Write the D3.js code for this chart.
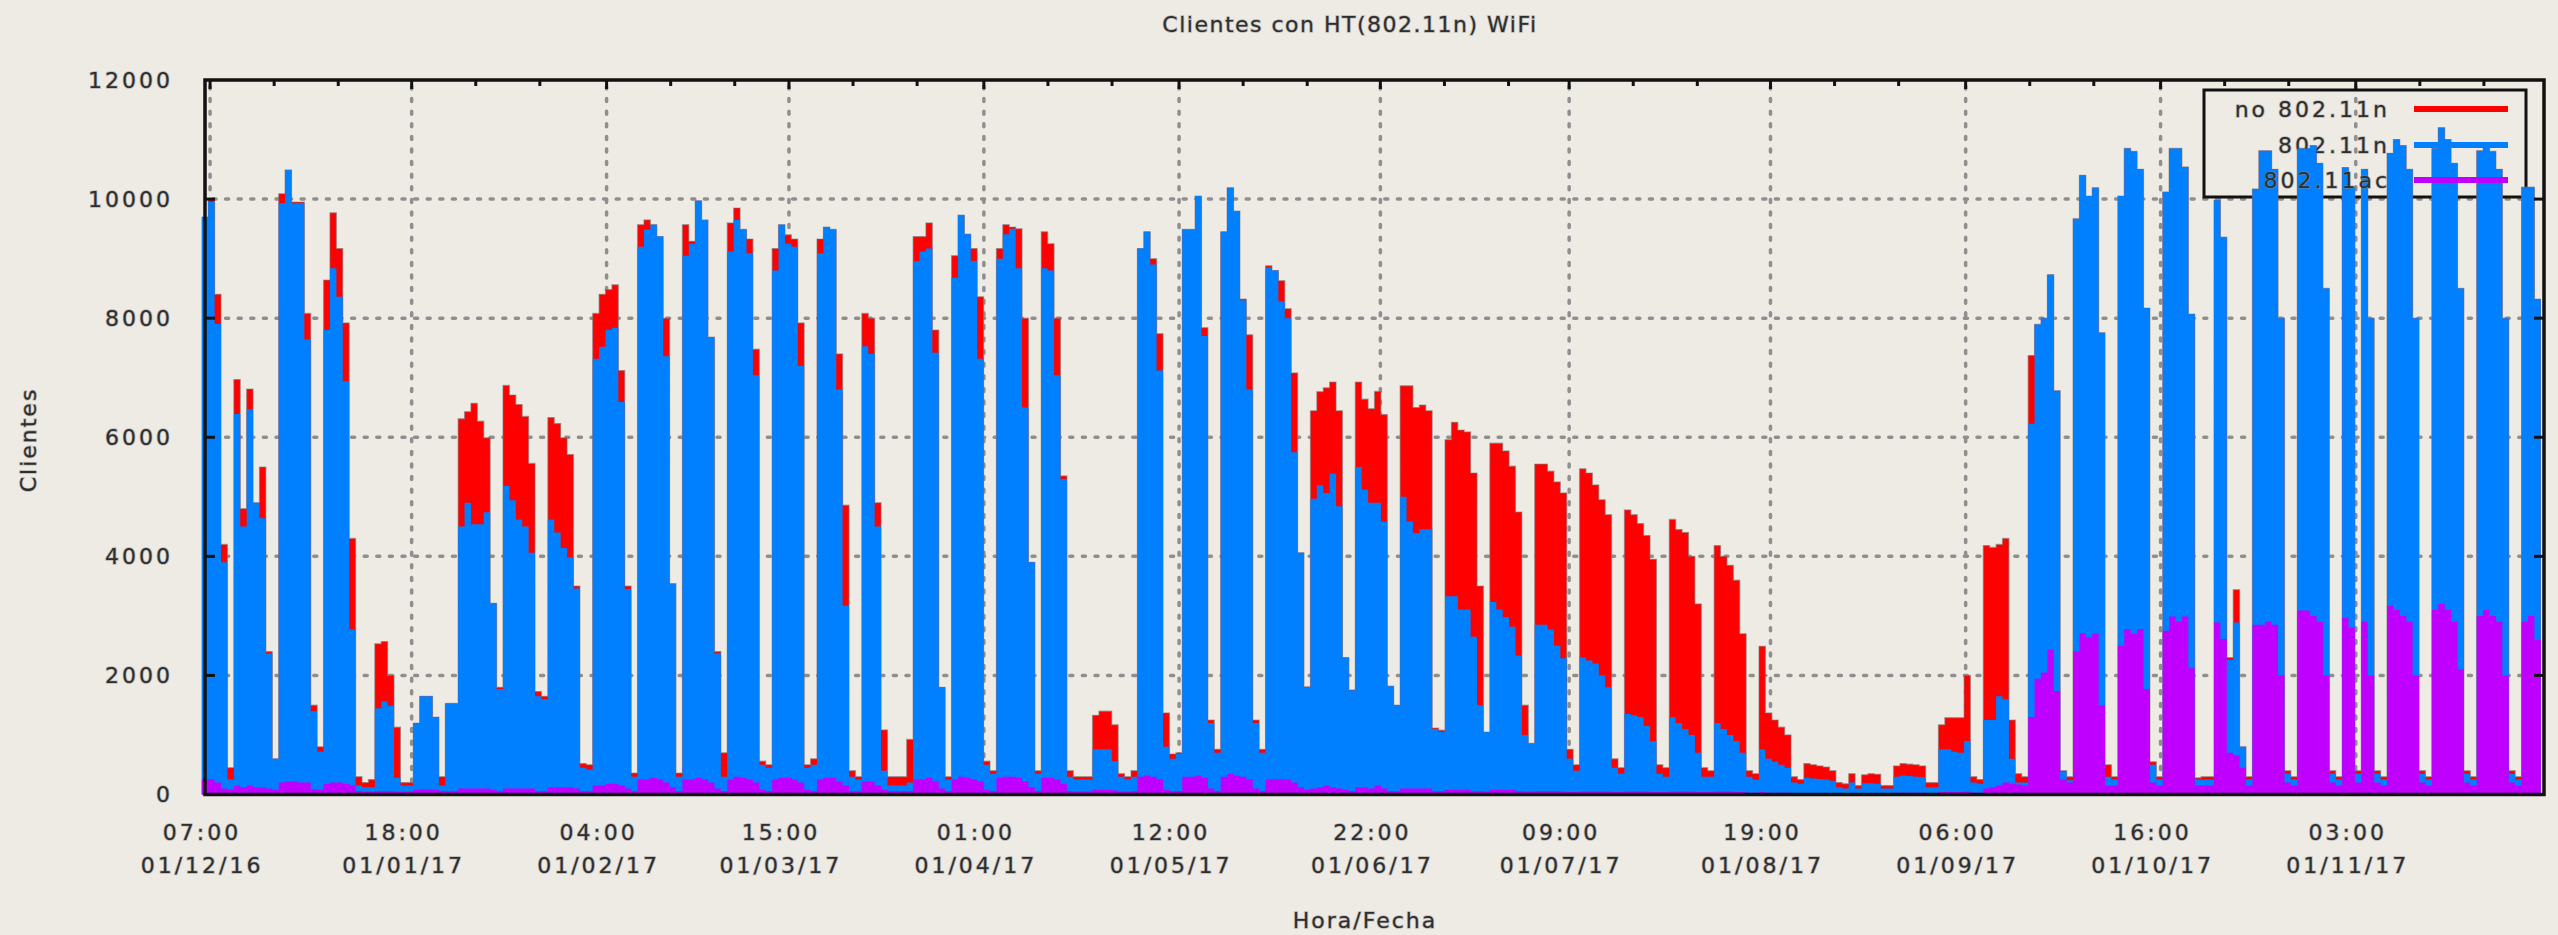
<!DOCTYPE html>
<html>
<head>
<meta charset="utf-8">
<script src="https://d3js.org/d3.v7.min.js"></script>
<style>
  body { margin: 0; background: #eeebe5; }
  svg text {
    font-family: "DejaVu Sans", sans-serif;
    fill: #2e2e2e;
    stroke: rgba(140,140,140,0.55);
    stroke-width: 1.6px;
    paint-order: stroke;
  }
</style>
</head>
<body>
<svg id="chart" width="2558" height="935"></svg>
<script>
// one value per day, first box is 30/11/16
var FIRST_DAY = Date.UTC(2016, 10, 30);

var totalClients = [
  9700, 10000, 8400, 4200, 450, 6970, 4800,
  6810, 4900, 5500, 2400, 600, 10090, 10490,
  9950, 9950, 8080, 1500, 800, 8640, 9770,
  9170, 7920, 4300, 300, 200, 250, 2530,
  2570, 2000, 1130, 200, 200, 1200, 1650,
  1650, 1300, 300, 1530, 1530, 6310, 6430,
  6570, 6270, 5990, 3210, 1800, 6870, 6710,
  6550, 6350, 5560, 1730, 1650, 6330, 6230,
  5990, 5710, 3500, 520, 500, 8080, 8400,
  8480, 8560, 7120, 3500, 360, 9570, 9650,
  9570, 9370, 8000, 3540, 360, 9570, 9290,
  9970, 9650, 7680, 2400, 700, 9600, 9850,
  9490, 9330, 7480, 560, 500, 9170, 9570,
  9400, 9330, 7920, 500, 600, 9330, 9530,
  9490, 7400, 4860, 400, 300, 8080, 8000,
  4900, 1085, 300, 300, 300, 925, 9370,
  9370, 9600, 7800, 1800, 300, 9050, 9730,
  9410, 9170, 8360, 560, 400, 9170, 9570,
  9530, 9500, 8000, 3900, 400, 9450, 9250,
  8000, 5350, 400, 300, 300, 300, 1330,
  1400, 1400, 1170, 350, 300, 400, 9170,
  9450, 9000, 7740, 1370, 680, 700, 9490,
  9490, 10050, 7840, 1250, 760, 9450, 10190,
  9800, 8320, 7720, 1250, 760, 8880, 8800,
  8630, 8160, 7080, 4060, 1810, 6445, 6766,
  6830, 6927, 6445, 2300, 1756, 6927, 6640,
  6480, 6770, 6380, 1820, 1500, 6863, 6863,
  6500, 6540, 6445, 1115, 1080, 5960, 6250,
  6120, 6090, 5400, 3500, 1050, 5900, 5900,
  5770, 5514, 4743, 1500, 860, 5550, 5550,
  5430, 5250, 5065, 760, 500, 5470, 5400,
  5200, 4950, 4700, 600, 450, 4780, 4700,
  4550, 4350, 3950, 500, 450, 4620, 4450,
  4400, 4000, 3200, 450, 400, 4180, 4000,
  3850, 3600, 2700, 400, 350, 2490, 1370,
  1250, 1130, 1000, 300, 250, 520, 500,
  480, 460, 400, 200, 180, 350, 150,
  330, 350, 340, 150, 150, 480, 520,
  510, 500, 480, 200, 200, 1170, 1290,
  1290, 1290, 2000, 300, 250, 4180, 4150,
  4200, 4300, 1250, 350, 300, 7373, 7895,
  8000, 8730, 6780, 400, 300, 9670, 10400,
  10050, 10190, 7755, 500, 300, 10050, 10850,
  10800, 10500, 8170, 550, 300, 10120, 10850,
  10850, 10540, 8070, 280, 300, 300, 9980,
  9360, 2300, 3440, 800, 300, 10170, 10810,
  10810, 10500, 8000, 400, 300, 10850, 10850,
  10900, 10600, 8500, 400, 300, 10530, 10200,
  400, 10500, 8000, 400, 300, 10770, 11000,
  10900, 10500, 8000, 400, 300, 10850, 11200,
  11000, 10600, 8500, 400, 300, 10810, 10900,
  10800, 10500, 8000, 400, 300, 10200, 10200,
  8320
];

var htClients = [
  9700, 9950, 7900, 3900, 250, 6390, 4500,
  6470, 4900, 4640, 2370, 600, 9930, 10490,
  9930, 9930, 7640, 1400, 720, 7800, 8840,
  8360, 6940, 2770, 150, 120, 120, 1450,
  1560, 1490, 280, 150, 150, 1200, 1650,
  1650, 1300, 150, 1530, 1530, 4500, 4900,
  4540, 4540, 4740, 3210, 1770, 5180, 4940,
  4620, 4500, 4060, 1650, 1600, 4620, 4400,
  4140, 3980, 3460, 450, 420, 7320, 7520,
  7800, 7840, 6590, 3450, 300, 9200, 9490,
  9570, 9370, 7360, 3540, 300, 9050, 9250,
  9970, 9650, 7680, 2370, 300, 9120, 9650,
  9490, 9090, 7040, 500, 450, 8800, 9570,
  9250, 9200, 7200, 450, 500, 9090, 9530,
  9490, 6800, 3170, 300, 250, 7530, 7400,
  4500, 400, 150, 150, 150, 200, 8960,
  9120, 9170, 7420, 1800, 250, 8680, 9730,
  9410, 8960, 7320, 500, 350, 9000, 9410,
  9500, 8840, 6500, 3900, 350, 8840, 8800,
  7040, 5300, 300, 250, 250, 250, 760,
  760, 760, 560, 300, 250, 300, 9170,
  9450, 8900, 7120, 800, 600, 680, 9490,
  9490, 10050, 7700, 1200, 700, 9450, 10190,
  9800, 8300, 6800, 1200, 700, 8850, 8800,
  8280, 8000, 5750, 4060, 1800, 4968, 5193,
  5064, 5386, 4840, 2300, 1750, 5500, 5120,
  4900, 4900, 4580, 1820, 1500, 5000, 4583,
  4390, 4454, 4454, 1100, 1050, 3330, 3330,
  3106, 3106, 2650, 1500, 1050, 3234, 3106,
  2978, 2817, 2335, 1000, 850, 2850, 2850,
  2770, 2500, 2290, 600, 400, 2300, 2250,
  2200, 2000, 1800, 450, 350, 1350, 1330,
  1300, 1150, 900, 350, 300, 1300, 1200,
  1100, 1000, 700, 300, 300, 1200, 1100,
  1000, 900, 700, 300, 250, 760, 600,
  550, 500, 450, 200, 180, 280, 270,
  260, 250, 230, 120, 100, 200, 100,
  190, 190, 180, 100, 100, 300, 320,
  310, 300, 290, 120, 120, 760, 760,
  720, 700, 900, 200, 180, 1250, 1250,
  1650, 1600, 600, 200, 200, 6225, 7895,
  8000, 8730, 6780, 380, 240, 9670, 10400,
  10050, 10190, 7755, 300, 250, 10050, 10850,
  10800, 10500, 8170, 500, 250, 10120, 10850,
  10850, 10540, 8070, 250, 250, 250, 9980,
  9360, 2260, 2890, 800, 250, 10170, 10810,
  10810, 10500, 8000, 350, 250, 10850, 10850,
  10900, 10600, 8500, 350, 250, 10530, 10200,
  350, 10500, 8000, 350, 250, 10770, 11000,
  10900, 10500, 8000, 350, 250, 10850, 11200,
  11000, 10600, 8500, 350, 250, 10810, 10900,
  10800, 10500, 8000, 350, 250, 10200, 10200,
  8320
];

var acClients = [
  250, 250, 200, 100, 80, 150, 120,
  150, 120, 120, 100, 80, 200, 220,
  220, 200, 200, 90, 80, 180, 200,
  200, 180, 150, 60, 50, 50, 60,
  60, 60, 50, 50, 50, 80, 90,
  90, 80, 60, 60, 60, 100, 100,
  100, 100, 100, 80, 60, 100, 100,
  100, 100, 100, 60, 60, 120, 120,
  120, 120, 100, 60, 60, 150, 150,
  180, 180, 150, 100, 60, 250, 250,
  280, 250, 200, 120, 60, 250, 250,
  280, 250, 200, 100, 60, 250, 300,
  280, 250, 200, 80, 60, 250, 280,
  280, 250, 200, 80, 60, 250, 280,
  280, 220, 150, 60, 60, 220, 220,
  150, 80, 60, 60, 60, 60, 250,
  250, 280, 220, 100, 60, 250, 300,
  280, 250, 220, 80, 60, 280, 300,
  300, 280, 220, 120, 60, 280, 280,
  250, 180, 60, 50, 50, 50, 80,
  80, 80, 70, 50, 50, 60, 300,
  320, 300, 250, 80, 60, 60, 300,
  300, 320, 280, 100, 60, 300, 350,
  320, 300, 250, 100, 60, 250, 250,
  250, 250, 200, 120, 80, 100, 120,
  150, 120, 100, 80, 60, 120, 120,
  100, 150, 100, 60, 60, 100, 100,
  100, 100, 100, 60, 60, 80, 80,
  80, 80, 60, 60, 50, 80, 80,
  80, 80, 60, 50, 50, 60, 60,
  60, 60, 50, 40, 40, 50, 50,
  50, 50, 50, 40, 40, 50, 50,
  50, 50, 40, 40, 40, 50, 50,
  50, 50, 40, 40, 40, 50, 50,
  50, 40, 40, 30, 30, 40, 30,
  30, 30, 30, 20, 20, 20, 20,
  20, 20, 20, 20, 20, 20, 20,
  20, 20, 20, 20, 20, 30, 30,
  30, 30, 30, 20, 20, 40, 40,
  40, 40, 50, 30, 30, 100, 120,
  150, 200, 180, 170, 150, 1300, 1946,
  2050, 2430, 1740, 250, 200, 2400, 2710,
  2640, 2710, 1500, 150, 150, 2500, 2780,
  2700, 2780, 1770, 200, 150, 2750, 2990,
  2900, 2990, 2120, 150, 150, 150, 2890,
  2610, 700, 660, 450, 150, 2850, 2850,
  2900, 2850, 2000, 200, 150, 3090, 3090,
  3000, 2900, 2000, 200, 150, 2970, 2800,
  200, 2900, 2000, 200, 150, 3170, 3100,
  3000, 2900, 2000, 200, 150, 3100, 3200,
  3100, 2900, 2100, 200, 150, 3000, 3100,
  3000, 2900, 2000, 200, 150, 2900, 3000,
  2600
];

// x tics as gnuplot printed them
var tickTimes = ["2016-12-01T07:00Z", "2017-01-01T18:00Z", "2017-02-01T04:00Z", "2017-03-01T15:00Z",
                 "2017-04-01T01:00Z", "2017-05-01T12:00Z", "2017-06-01T22:00Z", "2017-07-01T09:00Z",
                 "2017-08-01T19:00Z", "2017-09-01T06:00Z", "2017-10-01T16:00Z", "2017-11-01T03:00Z"];
var tickHours = ["07:00", "18:00", "04:00", "15:00", "01:00", "12:00", "22:00", "09:00", "19:00", "06:00", "16:00", "03:00"];
var tickDates = ["01/12/16", "01/01/17", "01/02/17", "01/03/17", "01/04/17", "01/05/17",
                 "01/06/17", "01/07/17", "01/08/17", "01/09/17", "01/10/17", "01/11/17"];
var yTicks = [0, 2000, 4000, 6000, 8000, 10000, 12000];

var seriesNames = ["no 802.11n", "802.11n", "802.11ac"];
var seriesColors = ["#ff0000", "#0080ff", "#c000ff"];

var DAY = 86400000;
var LEFT = 205, RIGHT = 2544, TOP = 80, BOTTOM = 794.5;

var svg = d3.select("#chart");

var xScale = d3.scaleUtc()
    .domain([new Date(FIRST_DAY + DAY / 2), new Date(FIRST_DAY + 365.5 * DAY)])
    .range([LEFT, RIGHT]);

var yScale = d3.scaleLinear()
    .domain([0, 12000])
    .range([BOTTOM, TOP]);

var tickDateObjs = tickTimes.map(function (t) { return new Date(t); });

svg.append("rect")
  .attr("width", 2558).attr("height", 935)
  .attr("fill", "#eeebe5");

// ##### grid #####
var grid = svg.append("g")
  .attr("stroke", "#8f8f8f")
  .attr("stroke-width", 3.5)
  .attr("stroke-dasharray", "3 9.6")
  .attr("stroke-linecap", "round");

grid.selectAll("line.gx")
  .data(tickDateObjs)
  .enter().append("line")
  .attr("class", "gx")
  .attr("x1", function (d) { return xScale(d); })
  .attr("x2", function (d) { return xScale(d); })
  .attr("y1", TOP + 6)
  .attr("y2", BOTTOM);

grid.selectAll("line.gy")
  .data(yTicks.filter(function (v) { return v > 0 && v < 12000; }))
  .enter().append("line")
  .attr("class", "gy")
  .attr("x1", LEFT + 8)
  .attr("x2", RIGHT)
  .attr("y1", function (d) { return yScale(d); })
  .attr("y2", function (d) { return yScale(d); });

// ##### key box #####
var keyX = 2390, keyLineX1 = 2414, keyLineX2 = 2508;
var keyY = [109, 145, 180];

svg.append("rect")
  .attr("x", 2204).attr("y", 90)
  .attr("width", 322).attr("height", 107)
  .attr("fill", "none")
  .attr("stroke", "#111")
  .attr("stroke-width", 3);

// ##### series, drawn like gnuplot: key entry then its boxes #####
function stepPoints(values) {
  var pts = values.map(function (v, i) {
    return { date: new Date(FIRST_DAY + i * DAY), value: v };
  });
  pts.push({ date: new Date(FIRST_DAY + values.length * DAY), value: values[values.length - 1] });
  return pts;
}

var area = d3.area()
  .curve(d3.curveStepAfter)
  .x(function (d) { return xScale(d.date); })
  .y0(yScale(0))
  .y1(function (d) { return yScale(d.value); });

var allSeries = [totalClients, htClients, acClients];

for (var s = 0; s < allSeries.length; s++) {
  svg.append("text")
    .attr("x", keyX)
    .attr("y", keyY[s])
    .attr("dy", "0.36em")
    .attr("text-anchor", "end")
    .style("font-size", "22px")
    .style("letter-spacing", "3px")
    .text(seriesNames[s]);

  svg.append("line")
    .attr("x1", keyLineX1).attr("x2", keyLineX2)
    .attr("y1", keyY[s]).attr("y2", keyY[s])
    .attr("stroke", seriesColors[s])
    .attr("stroke-width", 6);

  svg.append("path")
    .datum(stepPoints(allSeries[s]))
    .attr("fill", seriesColors[s])
    .attr("d", area);

  if (s === 0) {
    // thin outline the boxes get against the paper
    svg.append("path")
      .datum(stepPoints(totalClients))
      .attr("fill", "none")
      .attr("stroke", "rgba(120,120,120,0.55)")
      .attr("stroke-width", 1.2)
      .attr("d", d3.line().curve(d3.curveStepAfter)
        .x(function (d) { return xScale(d.date); })
        .y(function (d) { return yScale(d.value); }));
  }
}

// ##### border and tics #####
svg.append("rect")
  .attr("x", LEFT).attr("y", TOP)
  .attr("width", RIGHT - LEFT).attr("height", BOTTOM - TOP)
  .attr("fill", "none")
  .attr("stroke", "#111")
  .attr("stroke-width", 3.5);

var minorTicks = [];
tickDateObjs.forEach(function (d) {
  [10, 20].forEach(function (k) {
    var m = new Date(d.getTime() + k * DAY);
    if (xScale(m) < RIGHT) minorTicks.push(m);
  });
});

var tics = svg.append("g").attr("stroke", "#111").attr("stroke-width", 3);

tics.selectAll("line.mj")
  .data(tickDateObjs)
  .enter().append("line")
  .attr("class", "mj")
  .attr("x1", function (d) { return xScale(d); })
  .attr("x2", function (d) { return xScale(d); })
  .attr("y1", TOP).attr("y2", TOP + 9);

tics.selectAll("line.mn")
  .data(minorTicks)
  .enter().append("line")
  .attr("class", "mn")
  .attr("x1", function (d) { return xScale(d); })
  .attr("x2", function (d) { return xScale(d); })
  .attr("y1", TOP).attr("y2", TOP + 6);

tics.selectAll("line.yl")
  .data(yTicks.filter(function (v) { return v > 0 && v < 12000; }))
  .enter().append("line")
  .attr("class", "yl")
  .attr("x1", LEFT).attr("x2", LEFT + 10)
  .attr("y1", function (d) { return yScale(d); })
  .attr("y2", function (d) { return yScale(d); });

tics.selectAll("line.yr")
  .data(yTicks.filter(function (v) { return v > 0 && v < 12000; }))
  .enter().append("line")
  .attr("class", "yr")
  .attr("x1", RIGHT - 10).attr("x2", RIGHT)
  .attr("y1", function (d) { return yScale(d); })
  .attr("y2", function (d) { return yScale(d); });

// ##### labels #####
svg.selectAll("text.ylab")
  .data(yTicks)
  .enter().append("text")
  .attr("class", "ylab")
  .attr("x", 173)
  .attr("y", function (d) { return yScale(d); })
  .attr("dy", "0.36em")
  .attr("text-anchor", "end")
  .style("font-size", "22px")
  .style("letter-spacing", "3px")
  .text(function (d) { return d; });

var xLabels = svg.selectAll("g.xlab")
  .data(tickDateObjs)
  .enter().append("g")
  .attr("class", "xlab")
  .attr("transform", function (d) { return "translate(" + (xScale(d) - 8) + ",0)"; });

xLabels.append("text")
  .attr("y", 840)
  .attr("text-anchor", "middle")
  .style("font-size", "22px")
  .style("letter-spacing", "3px")
  .text(function (d, i) { return tickHours[i]; });

xLabels.append("text")
  .attr("y", 873)
  .attr("text-anchor", "middle")
  .style("font-size", "22px")
  .style("letter-spacing", "3px")
  .text(function (d, i) { return tickDates[i]; });

svg.append("text")
  .attr("x", 1350).attr("y", 32)
  .attr("text-anchor", "middle")
  .style("font-size", "22px")
  .style("letter-spacing", "1.5px")
  .text("Clientes con HT(802.11n) WiFi");

svg.append("text")
  .attr("x", 1365).attr("y", 928)
  .attr("text-anchor", "middle")
  .style("font-size", "22px")
  .style("letter-spacing", "2px")
  .text("Hora/Fecha");

svg.append("text")
  .attr("transform", "translate(36,440) rotate(-90)")
  .attr("text-anchor", "middle")
  .style("font-size", "22px")
  .style("letter-spacing", "2px")
  .text("Clientes");
</script>
</body>
</html>
